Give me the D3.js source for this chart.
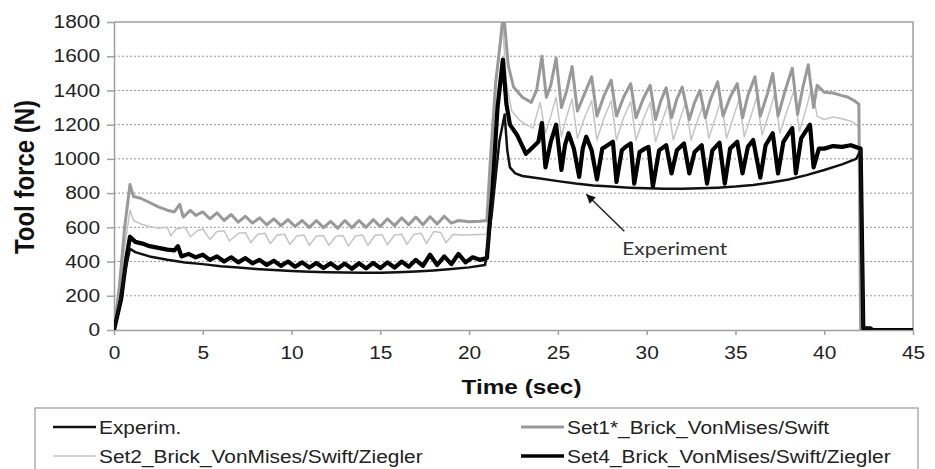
<!DOCTYPE html>
<html lang="en">
<head>
<meta charset="UTF-8">
<title>Tool force</title>
<script src="https://d3js.org/d3.v7.min.js"></script>
<style>
    body{margin:0;background:#fff;}
    svg{display:block;}
    .tick text{font-family:Arial, "Liberation Sans", sans-serif;font-size:18px;fill:#222;}
    .grid{stroke:#999;stroke-width:1;stroke-dasharray:2,2;}
    .series{fill:none;stroke-linejoin:round;}
</style>
</head>
<body>
<svg id="main" width="935" height="469"></svg>
<script>
    // [time (sec), force (N)]
    const experim = [[0,0],[0.3,150],[0.6,330],[0.9,475],[1.2,455],[2,430],[3,410],[4,395],[5,385],[6,373],[7,365],
        [8,357],[9,350],[10,345],[11,341],[12,338],[13,336],[14,335],[15,335],[16,338],[17,342],[18,348],[19,356],
        [20,366],[20.9,380],[21.3,700],[21.7,1100],[22.0,1260],[22.15,1050],[22.3,950],[22.6,915],[23,900],[24,885],
        [25,870],[26,856],[27,845],[28,838],[29,832],[30,828],[31,826],[32,826],[33,828],[34,832],[35,838],[36,848],
        [37,862],[38,880],[39,905],[40,935],[41,968],[41.8,1000],[42.05,1050],[42.2,10],[42.6,10],[42.7,0],[45,0]];

    const set1 = [[0,0],[0.3,250],[0.6,600],[0.9,850],[1.1,780],[1.5,770],[2,745],[2.5,720],[3,700],[3.4,690],
        [3.7,735],[3.9,660],[4.3,700],[4.6,670],[5,690],[5.4,650],[5.8,685],[6.2,640],[6.6,675],[7,630],[7.4,665],
        [7.8,625],[8.2,655],[8.6,615],[9,650],[9.4,610],[9.8,645],[10.2,605],[10.6,640],[11,600],[11.4,640],
        [11.8,598],[12.2,635],[12.6,595],[13,640],[13.4,598],[13.8,640],[14.2,600],[14.6,645],[15,605],[15.4,650],
        [15.8,610],[16.2,655],[16.6,615],[17,660],[17.4,615],[17.8,662],[18.2,620],[18.6,665],[19,625],[19.4,640],
        [20,632],[20.6,635],[21,640],[21.2,1000],[21.5,1450],[21.95,1850],[22.2,1550],[22.5,1420],[23,1360],
        [23.5,1330],[23.8,1400],[24.1,1600],[24.35,1360],[24.6,1430],[24.9,1590],[25.2,1300],[25.5,1400],
        [25.8,1540],[26.1,1280],[26.5,1380],[26.9,1480],[27.2,1250],[27.6,1370],[28,1460],[28.3,1250],[28.7,1360],
        [29.1,1440],[29.4,1240],[29.8,1350],[30.2,1430],[30.5,1230],[30.8,1340],[31.1,1415],[31.4,1240],[31.7,1350],
        [32,1420],[32.4,1230],[32.7,1330],[33,1400],[33.3,1240],[33.6,1350],[34,1450],[34.3,1250],[34.7,1360],
        [35.1,1440],[35.4,1240],[35.7,1370],[36.1,1480],[36.4,1250],[36.8,1380],[37.1,1500],[37.4,1250],[37.8,1400],
        [38.2,1530],[38.5,1260],[38.8,1420],[39.1,1550],[39.4,1300],[39.6,1430],[40,1390],[40.5,1385],[41,1370],
        [41.3,1362],[41.7,1340],[41.95,1320],[42.05,0],[45,0]];

    const set2 = [[0,0],[0.3,200],[0.6,480],[0.9,700],[1.1,640],[1.5,620],[2,605],[2.5,595],[3,600],[3.2,550],
        [3.5,590],[4,600],[4.3,545],[4.7,580],[5,590],[5.4,530],[5.8,575],[6.2,580],[6.5,520],[7,565],[7.4,570],
        [7.7,510],[8.1,560],[8.5,565],[8.8,505],[9.2,555],[9.6,560],[9.9,500],[10.3,550],[10.7,555],[11,495],
        [11.4,548],[11.8,552],[12.1,495],[12.5,548],[12.9,552],[13.2,490],[13.6,550],[14,555],[14.3,495],[14.7,552],
        [15.1,558],[15.4,498],[15.8,555],[16.2,560],[16.5,500],[16.9,560],[17.3,565],[17.6,505],[18,575],[18.4,570],
        [18.7,510],[19.1,560],[19.5,555],[20,555],[20.5,558],[21,560],[21.2,900],[21.5,1400],[21.85,1850],
        [22.1,1450],[22.4,1280],[22.8,1230],[23.2,1200],[23.6,1180],[24,1330],[24.3,1150],[24.6,1250],[24.9,1360],
        [25.2,1130],[25.5,1250],[25.8,1350],[26.1,1120],[26.5,1240],[26.9,1340],[27.2,1110],[27.6,1240],[28,1340],
        [28.3,1110],[28.7,1240],[29.1,1335],[29.4,1110],[29.8,1230],[30.2,1330],[30.5,1100],[30.9,1230],[31.2,1320],
        [31.5,1110],[31.9,1240],[32.2,1330],[32.5,1110],[32.9,1235],[33.2,1320],[33.5,1120],[33.9,1250],[34.2,1350],
        [34.5,1120],[34.9,1250],[35.2,1345],[35.5,1130],[35.9,1260],[36.2,1360],[36.5,1140],[36.9,1270],[37.2,1380],
        [37.5,1150],[37.9,1280],[38.3,1400],[38.6,1160],[39,1300],[39.3,1420],[39.6,1250],[40,1230],[40.5,1245],
        [41,1235],[41.5,1220],[41.95,1190],[42.05,0],[45,0]];

    const set4 = [[0,0],[0.4,180],[0.7,420],[0.9,545],[1.2,515],[1.6,505],[2,490],[2.5,480],[3,470],[3.4,465],
        [3.6,490],[3.8,430],[4.2,445],[4.6,425],[5,440],[5.4,410],[5.8,430],[6.2,400],[6.6,425],[7,395],[7.4,420],
        [7.8,390],[8.2,410],[8.6,380],[9,405],[9.4,375],[9.8,400],[10.2,370],[10.6,395],[11,365],[11.4,392],
        [11.8,362],[12.2,390],[12.6,360],[13,388],[13.4,358],[13.8,390],[14.2,360],[14.6,392],[15,362],[15.4,395],
        [15.8,365],[16.2,400],[16.6,370],[17,410],[17.4,375],[17.8,440],[18.2,380],[18.6,430],[19,385],[19.4,445],
        [19.8,395],[20.2,425],[20.6,410],[21,420],[21.3,800],[21.6,1300],[21.9,1580],[22.1,1320],[22.3,1200],
        [22.7,1140],[23.2,1030],[23.6,1070],[23.9,1100],[24.1,1210],[24.3,950],[24.6,1100],[24.9,1200],[25.2,935],
        [25.4,1080],[25.6,1150],[25.9,1060],[26.2,895],[26.4,1060],[26.6,1130],[26.9,1050],[27.2,880],[27.5,1060],
        [27.8,1080],[28.1,1100],[28.3,865],[28.6,1050],[28.8,1070],[29.1,1090],[29.3,855],[29.6,1040],[29.9,1060],
        [30.1,1070],[30.35,838],[30.7,1050],[31.1,1080],[31.4,915],[31.7,1050],[32.1,1090],[32.4,915],[32.7,1040],
        [33.1,1080],[33.4,855],[33.7,1050],[34.1,1095],[34.4,855],[34.7,1060],[35.1,1100],[35.4,915],[35.7,1070],
        [36,1110],[36.4,890],[36.7,1080],[37.1,1150],[37.4,915],[37.7,1100],[38.2,1180],[38.4,915],[38.7,1120],
        [39.2,1200],[39.4,950],[39.7,1060],[40,1060],[40.5,1075],[41,1070],[41.5,1080],[41.9,1065],[42.05,1060],
        [42.2,10],[42.6,10],[42.7,0],[45,0]];

    const xTicks = [0,5,10,15,20,25,30,35,40,45];
    const yTicks = [0,200,400,600,800,1000,1200,1400,1600,1800];
    const gridValues = [200,400,600,800,1000,1200,1400,1600];
    const legendNames = ['Experim.', 'Set1*_Brick_VonMises/Swift', 'Set2_Brick_VonMises/Swift/Ziegler', 'Set4_Brick_VonMises/Swift/Ziegler'];
    const annotation = {label: 'Experiment', at: [26.6, 828]};

    // line styles, same order as the legend
    const styles = [
        {color:'#111', width:2.5},
        {color:'#999', width:3},
        {color:'#c4c4c4', width:1.5},
        {color:'#000', width:4.2}
    ];
    const seriesData = [experim, set1, set2, set4];
    const drawOrder = [2, 1, 3, 0];

    let svg = d3.select('svg');
    let plot = {left:114, right:913, top:22, bottom:330};
    const stretch = 1.16; // the figure's text is a little wide

    let xScale = d3.scaleLinear().domain([0,45]).range([plot.left, plot.right]);
    let yScale = d3.scaleLinear().domain([0,1800]).range([plot.bottom, plot.top]);

    svg.append('defs').append('clipPath').attr('id','plotClip')
        .append('rect')
        .attr('x', plot.left).attr('y', plot.top)
        .attr('width', plot.right - plot.left).attr('height', plot.bottom - plot.top);

    // dotted grid
    svg.append('g').selectAll('line')
        .data(gridValues)
        .enter()
        .append('line')
        .attr('class','grid')
        .attr('x1', plot.left).attr('x2', plot.right)
        .attr('y1', d => yScale(d)).attr('y2', d => yScale(d));

    // top and right border
    svg.append('path')
        .attr('d', `M${plot.left},${yScale(1800)}H${plot.right}V${plot.bottom}`)
        .attr('fill','none').attr('stroke','#a0a0a0').attr('stroke-width',1.5);

    function widen(sel){
        sel.selectAll('.tick text').each(function(){
            let t = d3.select(this);
            let x = +t.attr('x') || 0;
            let y = +t.attr('y') || 0;
            t.attr('x', 0).attr('y', 0)
                .attr('transform', `translate(${x},${y}) scale(${stretch},1)`);
        });
        sel.selectAll('path.domain, .tick line').attr('stroke','#a0a0a0').attr('stroke-width',1.5);
    }

    let yAxis = svg.append('g')
        .attr('transform', `translate(${plot.left},0)`)
        .call(d3.axisLeft(yScale).tickValues(yTicks).tickFormat(d3.format('d'))
            .tickSize(7).tickSizeOuter(0).tickPadding(7))
        .call(widen);
    yAxis.attr('font-family', null).attr('font-size', null);

    let xAxis = svg.append('g')
        .attr('transform', `translate(0,${plot.bottom})`)
        .call(d3.axisBottom(xScale).tickValues(xTicks).tickFormat(d3.format('d'))
            .tickSize(5).tickSizeOuter(0).tickPadding(11))
        .call(widen);
    xAxis.attr('font-family', null).attr('font-size', null);

    // series
    let line = d3.line()
        .x(d => xScale(d[0]))
        .y(d => yScale(d[1]));

    svg.append('g').attr('clip-path','url(#plotClip)')
        .selectAll('path')
        .data(drawOrder)
        .enter()
        .append('path')
        .attr('class','series')
        .attr('d', i => line(seriesData[i]))
        .attr('stroke', i => styles[i].color)
        .attr('stroke-width', i => styles[i].width);

    // axis titles
    svg.append('text')
        .attr('transform', `translate(${(plot.left + plot.right) / 2 + 8},394) scale(${stretch},1)`)
        .attr('text-anchor','middle')
        .style('font-family','Arial, "Liberation Sans", sans-serif')
        .style('font-weight','bold').style('font-size','21px').style('fill','#111')
        .text('Time (sec)');

    svg.append('text')
        .attr('transform', `translate(34,${(plot.top + plot.bottom) / 2 + 1}) scale(${stretch},1) rotate(-90)`)
        .attr('text-anchor','middle')
        .style('font-family','Arial, "Liberation Sans", sans-serif')
        .style('font-weight','bold').style('font-size','24px').style('fill','#111')
        .text('Tool force (N)');

    // annotation with arrow
    svg.append('defs').append('marker')
        .attr('id','arrowHead').attr('viewBox','0 0 10 10')
        .attr('refX',10).attr('refY',5)
        .attr('markerWidth',10).attr('markerHeight',9)
        .attr('markerUnits','userSpaceOnUse')
        .attr('orient','auto')
        .append('path').attr('d','M0,0L10,5L0,10Z').attr('fill','#111');

    let tip = [xScale(annotation.at[0]), yScale(annotation.at[1]) + 6];
    svg.append('line')
        .attr('x1', tip[0] + 38).attr('y1', tip[1] + 37)
        .attr('x2', tip[0]).attr('y2', tip[1])
        .attr('stroke','#222').attr('stroke-width',1.5)
        .attr('marker-end','url(#arrowHead)');

    svg.append('text')
        .attr('transform', `translate(${tip[0] + 36},${tip[1] + 61}) scale(${stretch},1)`)
        .style('font-family','Lato, "Open Sans", sans-serif')
        .style('font-size','18px').style('fill','#333')
        .text(annotation.label);

    // legend
    let legend = svg.append('g');
    legend.append('rect')
        .attr('x',35).attr('y',408).attr('width',883).attr('height',80)
        .attr('fill','#fff').attr('stroke','#999').attr('stroke-width',1.2);

    let cols = [53, 521];
    let rows = [427, 456];
    let items = legend.selectAll('g.item')
        .data(legendNames)
        .enter()
        .append('g')
        .attr('class','item')
        .attr('transform', (d,i) => `translate(${cols[i % 2]},${rows[Math.floor(i / 2)]})`);

    items.append('line')
        .attr('x1',0).attr('x2',43).attr('y1',0).attr('y2',0)
        .attr('stroke', (d,i) => styles[i].color)
        .attr('stroke-width', (d,i) => Math.min(styles[i].width, 3.5));

    items.append('text')
        .attr('transform', `translate(46,6.5) scale(${stretch},1)`)
        .style('font-family','Arial, "Liberation Sans", sans-serif')
        .style('font-size','18px').style('fill','#222')
        .text(d => d);
</script>
</body>
</html>
